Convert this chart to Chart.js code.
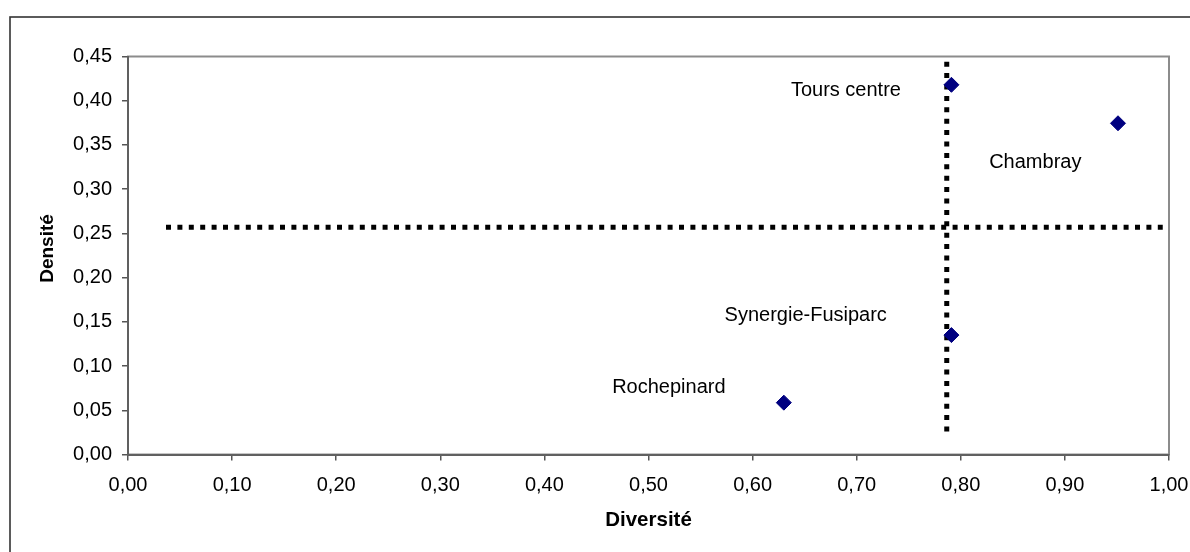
<!DOCTYPE html>
<html><head><meta charset="utf-8">
<script src="https://cdn.jsdelivr.net/npm/chart.js@4.4.0/dist/chart.umd.min.js"></script>
<style>html,body{margin:0;padding:0;background:#fff;} #wrap{width:1190px;height:552px;position:relative;}</style>
</head><body><div id="wrap"><canvas id="c"></canvas></div>
<script>
// ---- data ----
const siteNames = ['Tours centre', 'Chambray', 'Synergie-Fusiparc', 'Rochepinard'];
const diversite = [0.791, 0.951, 0.791, 0.630];
const densite   = [0.418, 0.3745, 0.135, 0.0586];
// dotted reference lines (data units)
const hLineX = [0.0365, 0.994];
const hLineY = [0.257, 0.257];
const vLineX = [0.7865, 0.7865];
const vLineY = [0.026, 0.445];
// axes
const xMin = 0, xMax = 1, xStep = 0.1;
const yMin = 0, yMax = 0.45, yStep = 0.05;
const xTitle = 'Diversité';
const yTitle = 'Densité';

const FONT = "'Liberation Sans', Arial, Helvetica, sans-serif";
const fmt = v => Number(v).toFixed(2).replace('.', ',');

const pts = siteNames.map((n, i) => ({x: diversite[i], y: densite[i]}));
const hLine = hLineX.map((x, i) => ({x, y: hLineY[i]}));
const vLine = vLineX.map((x, i) => ({x, y: vLineY[i]}));

const labelOffsets = [[-105.5, 10.7], [-82.7, 44.4], [-145.7, -14.3], [-115, -10]];

const deco = {
  id: 'deco',
  beforeDraw(chart) {
    const {ctx, chartArea: a} = chart;
    ctx.save();
    ctx.fillStyle = '#fff';
    ctx.fillRect(0, 0, chart.width, chart.height);
    ctx.strokeStyle = '#8c8c8c';
    ctx.lineWidth = 2;
    ctx.strokeRect(a.left, a.top, a.right - a.left, a.bottom - a.top);
    ctx.strokeStyle = '#333';
    ctx.lineWidth = 1.6;
    ctx.strokeRect(10, 17, 1400, 1000);
    ctx.restore();
  },
  afterDraw(chart) {
    const {ctx, chartArea: a} = chart;
    ctx.save();
    ctx.font = 'bold 19px ' + FONT;
    ctx.fillStyle = '#000';
    ctx.textAlign = 'center';
    ctx.textBaseline = 'middle';
    ctx.translate(48, (a.top + a.bottom) / 2 - 7);
    ctx.rotate(-Math.PI / 2);
    ctx.fillText(yTitle, 0, 0);
    ctx.restore();
  },
  afterDatasetsDraw(chart) {
    const {ctx, scales} = chart;
    ctx.save();
    ctx.font = '20px ' + FONT;
    ctx.fillStyle = '#000';
    ctx.textAlign = 'center';
    ctx.textBaseline = 'alphabetic';
    siteNames.forEach((n, i) => {
      const px = scales.x.getPixelForValue(diversite[i]);
      const py = scales.y.getPixelForValue(densite[i]);
      ctx.fillText(n, px + labelOffsets[i][0], py + labelOffsets[i][1]);
    });
    ctx.restore();
  }
};

new Chart(document.getElementById('c'), {
  type: 'scatter',
  data: {
    datasets: [
      {
        data: pts,
        pointStyle: 'rectRot',
        pointRadius: 7.5,
        pointHoverRadius: 7.5,
        borderWidth: 1,
        backgroundColor: '#000080',
        borderColor: '#000080',
        showLine: false
      },
      {
        data: vLine,
        showLine: true,
        borderColor: '#000',
        borderWidth: 5,
        borderDash: [5, 6.4],
        borderCapStyle: 'butt',
        pointRadius: 0,
        pointHoverRadius: 0
      },
      {
        data: hLine,
        showLine: true,
        borderColor: '#000',
        borderWidth: 5,
        borderDash: [5, 6.4],
        borderCapStyle: 'butt',
        pointRadius: 0,
        pointHoverRadius: 0
      }
    ]
  },
  options: {
    responsive: true,
    maintainAspectRatio: false,
    animation: false,
    events: [],
    layout: {padding: {left: 0, top: 56.5, right: 21, bottom: 0}},
    plugins: {legend: {display: false}, tooltip: {enabled: false}},
    scales: {
      x: {
        type: 'linear',
        min: xMin, max: xMax,
        afterFit: s => { s.height = 97.5; s.paddingLeft = 0; s.paddingRight = 0; },
        ticks: {stepSize: xStep, callback: fmt, color: '#000', padding: 13, font: {family: FONT, size: 20}, maxRotation: 0},
        grid: {display: true, drawOnChartArea: false, drawTicks: true, tickLength: 6, color: '#555', lineWidth: 1.5},
        border: {display: true, color: '#606060', width: 2},
        title: {display: true, text: xTitle, color: '#000', font: {family: FONT, size: 20.5, weight: 'bold'}, padding: {top: 0, bottom: 19}}
      },
      y: {
        type: 'linear',
        min: yMin, max: yMax,
        afterFit: s => { s.width = 128; s.paddingTop = 0; s.paddingBottom = 0; },
        ticks: {stepSize: yStep, callback: fmt, color: '#000', padding: 10, font: {family: FONT, size: 20}},
        grid: {display: true, drawOnChartArea: false, drawTicks: true, tickLength: 6, color: '#555', lineWidth: 1.5},
        border: {display: true, color: '#606060', width: 2},
        title: {display: false}
      }
    }
  },
  plugins: [deco]
});
</script>
</body></html>
